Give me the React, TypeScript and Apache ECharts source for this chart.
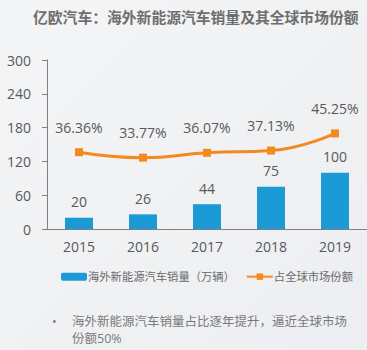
import React, { useEffect, useRef } from "react";
import * as echarts from "echarts";

const years = ["2015", "2016", "2017", "2018", "2019"];
const sales = [20, 26, 44, 75, 100];
const share = [36.36, 33.77, 36.07, 37.13, 45.25];
const yTicks = [0, 60, 120, 180, 240, 300];

const FONT = "'Open Sans', 'Noto Sans CJK SC', sans-serif";

export default function App() {
  const ref = useRef<HTMLDivElement>(null);
  useEffect(() => {
    if (!ref.current) return;
    const chart = echarts.init(ref.current, undefined, { renderer: "svg" });
    chart.setOption({
      animation: false,
      backgroundColor: {
        type: "linear",
        x: 0, y: 0, x2: 1, y2: 1,
        colorStops: [
          { offset: 0, color: "#f4f5f6" },
          { offset: 1, color: "#eceef1" },
        ],
      },
      title: {
        text: "亿欧汽车：海外新能源汽车销量及其全球市场份额",
        left: 28,
        top: 5,
        textStyle: { fontFamily: FONT, fontSize: 14.8, fontWeight: "bold", color: "#6e6e6e" },
      },
      grid: { left: 47, top: 60, width: 323, height: 169 },
      legend: {
        top: 266,
        left: 56,
        width: 310,
        itemWidth: 26,
        itemHeight: 8,
        itemGap: 11,
        textStyle: { fontFamily: FONT, fontSize: 11.3, color: "#6a6a6a", padding: [0, 0, 0, -4] },
        data: ["海外新能源汽车销量（万辆）", "占全球市场份额"],
      },
      xAxis: {
        type: "category",
        data: years,
        axisLine: { lineStyle: { color: "#7f7f7f" } },
        axisTick: { lineStyle: { color: "#7f7f7f" }, length: 4 },
        axisLabel: { fontFamily: FONT, fontSize: 14, color: "#595959", margin: 10 },
      },
      yAxis: [
        {
          type: "value",
          min: yTicks[0],
          max: yTicks[yTicks.length - 1],
          interval: 60,
          axisLine: { show: true, lineStyle: { color: "#7f7f7f" } },
          axisTick: { show: true, length: 5, lineStyle: { color: "#7f7f7f" } },
          splitLine: { show: false },
          axisLabel: { fontFamily: FONT, fontSize: 14, color: "#595959", margin: 16 },
        },
        {
          type: "value",
          min: 0,
          max: 80,
          show: false,
          splitLine: { show: false },
        },
      ],
      series: [
        {
          name: "海外新能源汽车销量（万辆）",
          type: "bar",
          data: sales,
          barWidth: 28,
          itemStyle: { color: "#1b9ad6" },
          label: {
            show: true,
            position: "top",
            distance: 9,
            fontFamily: FONT,
            fontSize: 14,
            color: "#595959",
          },
        },
        {
          name: "占全球市场份额",
          type: "line",
          yAxisIndex: 1,
          data: share,
          smooth: true,
          symbol: "rect",
          symbolSize: 8,
          lineStyle: { color: "#f5891f", width: 3 },
          itemStyle: { color: "#f5891f" },
          label: {
            show: true,
            position: "top",
            distance: 14,
            fontFamily: FONT,
            fontSize: 14,
            color: "#595959",
            formatter: (p: any) => p.value.toFixed(2) + "%",
          },
        },
      ],
      graphic: [
        {
          type: "text",
          left: 52,
          top: 315,
          style: { text: "•", font: `12.5px ${FONT}`, fill: "#7a7a7a" },
        },
        {
          type: "text",
          left: 72,
          top: 313,
          style: {
            text: "海外新能源汽车销量占比逐年提升，逼近全球市场\n份额50%",
            font: `12.5px ${FONT}`,
            lineHeight: 17,
            fill: "#7a7a7a",
          },
        },
      ],
    });
    return () => chart.dispose();
  }, []);
  return (
    <div
      ref={ref}
      style={{ position: "absolute", left: 0, top: 0, width: 367, height: 350 }}
    />
  );
}
